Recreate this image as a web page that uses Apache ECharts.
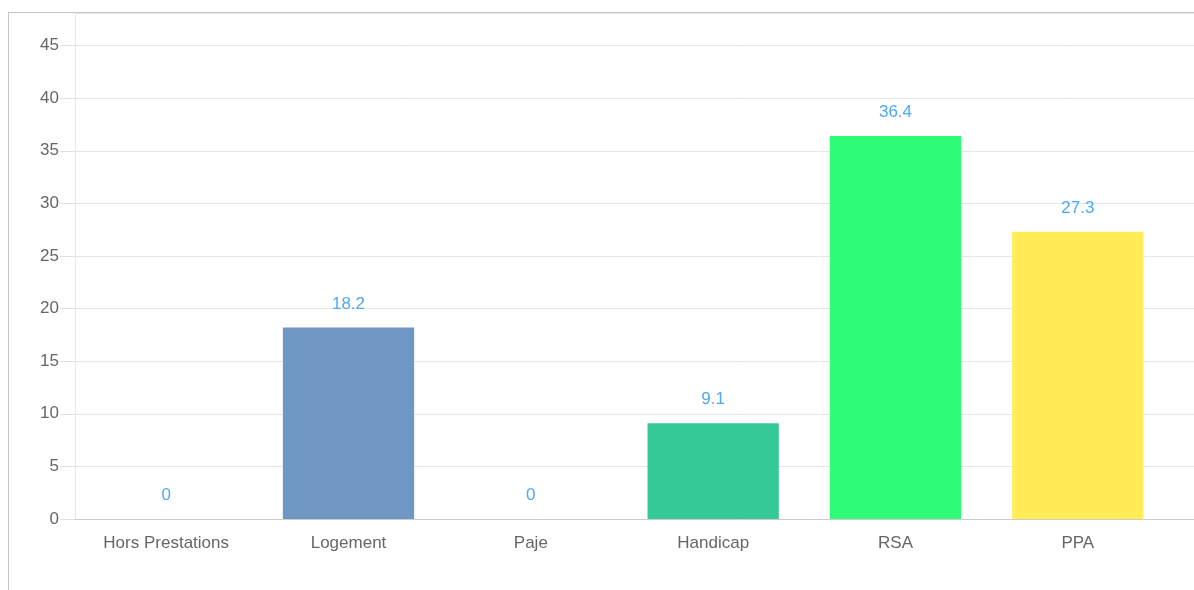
<!DOCTYPE html>
<html>
<head>
<meta charset="utf-8">
<script src="https://cdn.jsdelivr.net/npm/echarts@6/dist/echarts.min.js"></script>
<style>
  html, body { margin: 0; padding: 0; width: 1194px; height: 590px; overflow: hidden; background: #fff; }
  #frame { position: absolute; left: 8px; top: 12px; width: 1400px; height: 700px; border: 1px solid #c4c4c4; box-sizing: border-box; }
  #chart { position: absolute; left: 0; top: 0; width: 1400px; height: 590px; }
</style>
</head>
<body>
<div id="frame"></div>
<div id="chart"></div>
<script>
const categories = ['Hors Prestations', 'Logement', 'Paje', 'Handicap', 'RSA', 'PPA'];
const values = [0, 18.2, 0, 9.1, 36.4, 27.3];
const barColors = ['#5b8ff9', '#6e97c4', '#9fb4d6', '#34c996', '#2efc78', '#ffec57'];
const yMin = 0, yMax = 48.1, yInterval = 5;

const chart = echarts.init(document.getElementById('chart'));
const fontFamily = '"Liberation Sans", Arial, sans-serif';

chart.setOption({
  animation: false,
  grid: [
    { left: 75, top: 13, width: 1094, height: 506 },
    { left: 75, top: 13, right: 0, height: 506 }
  ],
  xAxis: [
    {
      gridIndex: 0, type: 'category', data: categories,
      axisLine: { show: false }, axisTick: { show: false },
      axisLabel: { color: '#666', fontSize: 17, fontFamily: fontFamily, margin: 16, interval: 0 }
    },
    {
      gridIndex: 1, type: 'value', min: 0, max: 1,
      axisLine: { show: true, lineStyle: { color: '#cccccc', width: 1 } },
      axisTick: { show: false }, axisLabel: { show: false }, splitLine: { show: false }
    }
  ],
  yAxis: [
    { gridIndex: 0, type: 'value', min: yMin, max: yMax, interval: yInterval, show: false, splitLine: { show: false } },
    {
      gridIndex: 1, type: 'value', min: yMin, max: yMax, interval: yInterval,
      axisLine: { show: true, lineStyle: { color: '#e6e6e6' } },
      axisTick: { show: true, length: 15, lineStyle: { color: '#e0e0e0' } },
      axisLabel: { color: '#666', fontSize: 17, fontFamily: fontFamily, margin: 16, showMaxLabel: false },
      splitLine: { show: true, lineStyle: { color: '#e6e6e6' } }
    }
  ],
  series: [{
    type: 'bar',
    xAxisIndex: 0, yAxisIndex: 0,
    barWidth: '72%',
    data: values.map((v, i) => ({ value: v, itemStyle: { color: barColors[i] } })),
    label: {
      show: true, position: 'top', distance: 15,
      color: '#4ea9ee', fontSize: 17, fontFamily: fontFamily
    }
  }]
});
</script>
</body>
</html>
